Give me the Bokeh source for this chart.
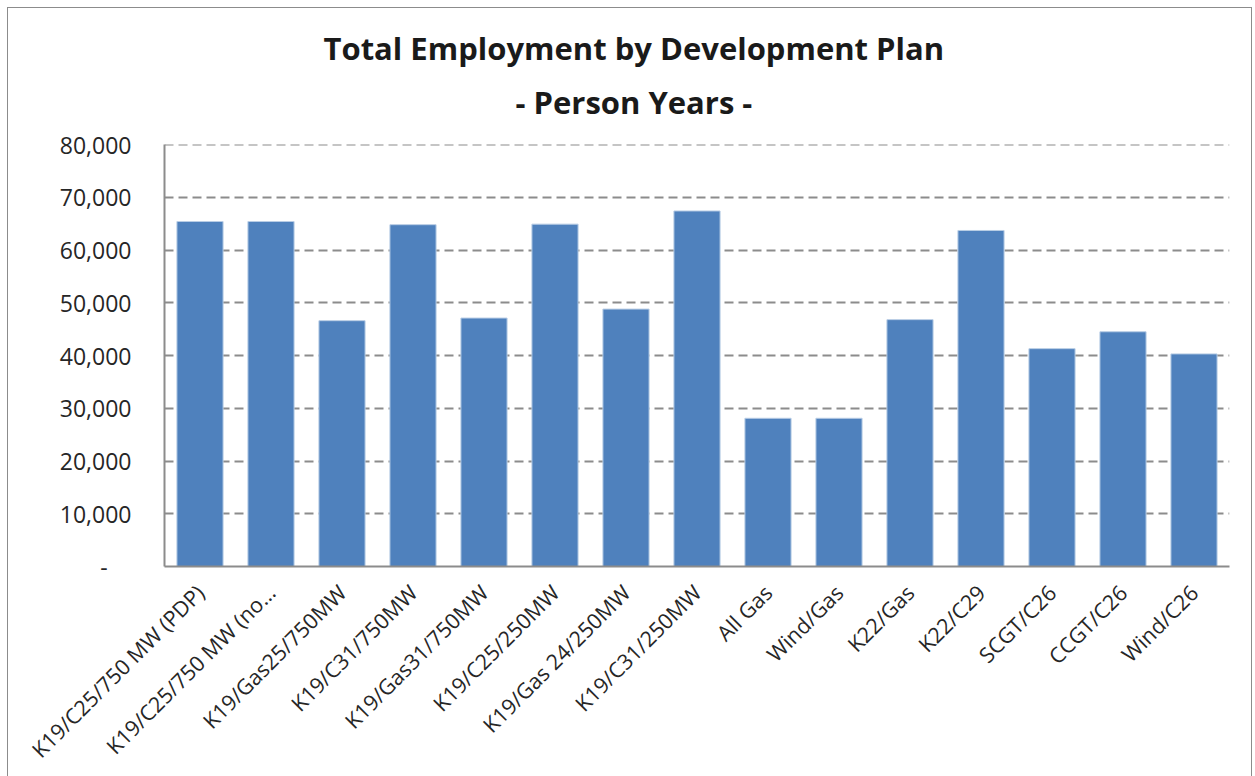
import math
from bokeh.plotting import figure
from bokeh.models import Title, CustomJSTickFormatter, Range1d, FixedTicker, Span
from bokeh.embed import file_html
from bokeh.resources import INLINE

categories = [
    "K19/C25/750 MW (PDP)", "K19/C25/750 MW (no\u2026", "K19/Gas25/750MW",
    "K19/C31/750MW", "K19/Gas31/750MW", "K19/C25/250MW", "K19/Gas 24/250MW",
    "K19/C31/250MW", "All Gas", "Wind/Gas", "K22/Gas", "K22/C29",
    "SCGT/C26", "CCGT/C26", "Wind/C26",
]
employment = [
    65400, 65400, 46600, 64800, 47100, 64900, 48800,
    67400, 28100, 28100, 46800, 63700, 41300, 44500, 40300,
]
y_ticks = [0, 10000, 20000, 30000, 40000, 50000, 60000, 70000, 80000]
title_line1 = "Total Employment by Development Plan"
title_line2 = "- Person Years -"

FONT = "Open Sans"

p = figure(
    x_range=categories,
    y_range=Range1d(0, 80000),
    frame_width=1065, frame_height=422,
    min_border_left=156, min_border_right=22,
    min_border_top=136, min_border_bottom=211,
    output_backend="svg", toolbar_location=None,
)
p.margin = (7, 0, 0, 7)
p.styles = {
    "border-top": "1.5px solid #8c8c8c",
    "border-left": "1.5px solid #8c8c8c",
    "border-right": "1.5px solid #8c8c8c",
}

p.vbar(x=categories, top=employment, width=0.65,
       fill_color="#4f81bd", line_color="#b9cde5", line_width=1)

# Titles
t2 = Title(text=title_line2, align="left", offset=351, text_font=FONT,
           text_font_size="31px", text_font_style="bold", text_color="#1a1a1a",
           standoff=43)
t1 = Title(text=title_line1, align="left", offset=159, text_font=FONT,
           text_font_size="31px", text_font_style="bold", text_color="#1a1a1a",
           standoff=-23)
p.add_layout(t2, "above")
p.add_layout(t1, "above")

p.outline_line_color = None
p.background_fill_color = "white"
p.border_fill_color = "white"

# Grid
p.xgrid.grid_line_color = None
p.ygrid.grid_line_color = "#8c8c8c"
p.ygrid.grid_line_width = 2
p.ygrid.grid_line_dash = "9 5"
p.add_layout(Span(location=y_ticks[-1], dimension="width", line_color="#8c8c8c",
                  line_width=2, line_dash="9 5"))

# Y axis
p.yaxis.ticker = FixedTicker(ticks=y_ticks)
p.yaxis.formatter = CustomJSTickFormatter(code="""
    if (tick == 0) return "-\u00a0\u00a0\u00a0\u00a0";
    return tick.toLocaleString('en-US');
""")
p.yaxis.axis_line_color = "#8c8c8c"
p.yaxis.axis_line_width = 2
p.yaxis.major_tick_line_color = None
p.yaxis.minor_tick_line_color = None
p.yaxis.major_tick_out = 0
p.yaxis.major_label_standoff = 33
p.yaxis.major_label_text_font = FONT
p.yaxis.major_label_text_font_size = "23px"
p.yaxis.major_label_text_color = "#262626"

# X axis
p.xaxis.axis_line_color = "#8c8c8c"
p.xaxis.axis_line_width = 2
p.xaxis.major_tick_line_color = None
p.xaxis.major_tick_out = 0
p.xaxis.major_label_orientation = math.pi / 4
p.xaxis.major_label_standoff = 22
p.xaxis.major_label_text_font = FONT
p.xaxis.major_label_text_font_size = "21.5px"
p.xaxis.major_label_text_color = "#262626"

open("out.html", "w").write(file_html(p, INLINE))
